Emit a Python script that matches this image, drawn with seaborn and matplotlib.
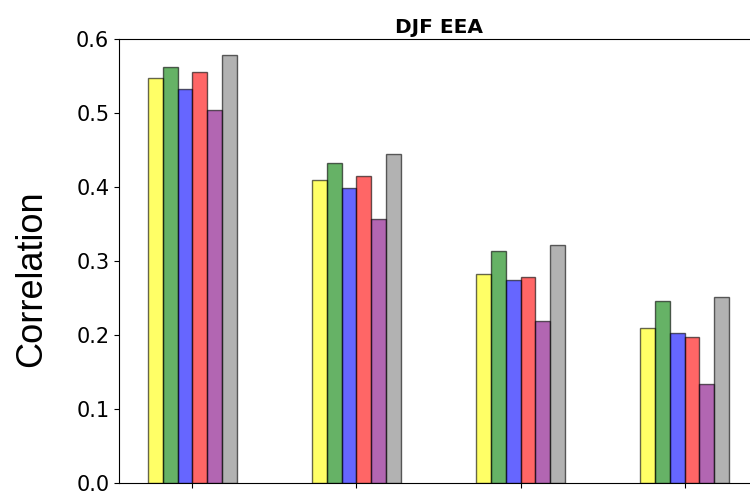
import pandas as pd
import matplotlib.pyplot as plt
import seaborn as sns

# correlation per category, one list per series
categories = ['1', '2', '3', '4']
series_names = ['S1', 'S2', 'S3', 'S4', 'S5', 'S6']
s1 = [0.547, 0.409, 0.282, 0.209]
s2 = [0.562, 0.432, 0.314, 0.246]
s3 = [0.532, 0.399, 0.274, 0.203]
s4 = [0.555, 0.415, 0.278, 0.197]
s5 = [0.504, 0.357, 0.219, 0.134]
s6 = [0.578, 0.445, 0.322, 0.251]
colors = ['yellow', 'green', 'blue', 'red', 'purple', 'gray']

# long format table for seaborn
rows = []
for name, vals in zip(series_names, [s1, s2, s3, s4, s5, s6]):
    for cat, v in zip(categories, vals):
        rows.append({'category': cat, 'series': name, 'corr': v})
df = pd.DataFrame(rows)

fig = plt.figure(figsize=(7.5, 4.91), dpi=100)
# right side of the axes is cut off like in the original screenshot
ax = fig.add_axes([0.1587, 0.0163, 0.852, 0.9043])

sns.barplot(data=df, x='category', y='corr', hue='series', order=categories,
            hue_order=series_names, palette=colors, width=0.54, gap=0,
            alpha=0.6, edgecolor='black', linewidth=1, legend=False,
            errorbar=None, saturation=1, ax=ax)

ax.set_xlim(-0.447, 3.447)
ax.set_ylim(0, 0.6)
ax.set_yticks([0.0, 0.1, 0.2, 0.3, 0.4, 0.5, 0.6])
ax.set_xticklabels([])
ax.set_xlabel('')
ax.tick_params(axis='y', labelsize=15)
ax.set_ylabel('Correlation', fontsize=26, family='Liberation Sans')
ax.yaxis.set_label_coords(-0.11, 0.46)
ax.set_title('DJF EEA', fontsize=14.5, fontweight='bold', pad=4)

fig.savefig('out.png', dpi=100)
